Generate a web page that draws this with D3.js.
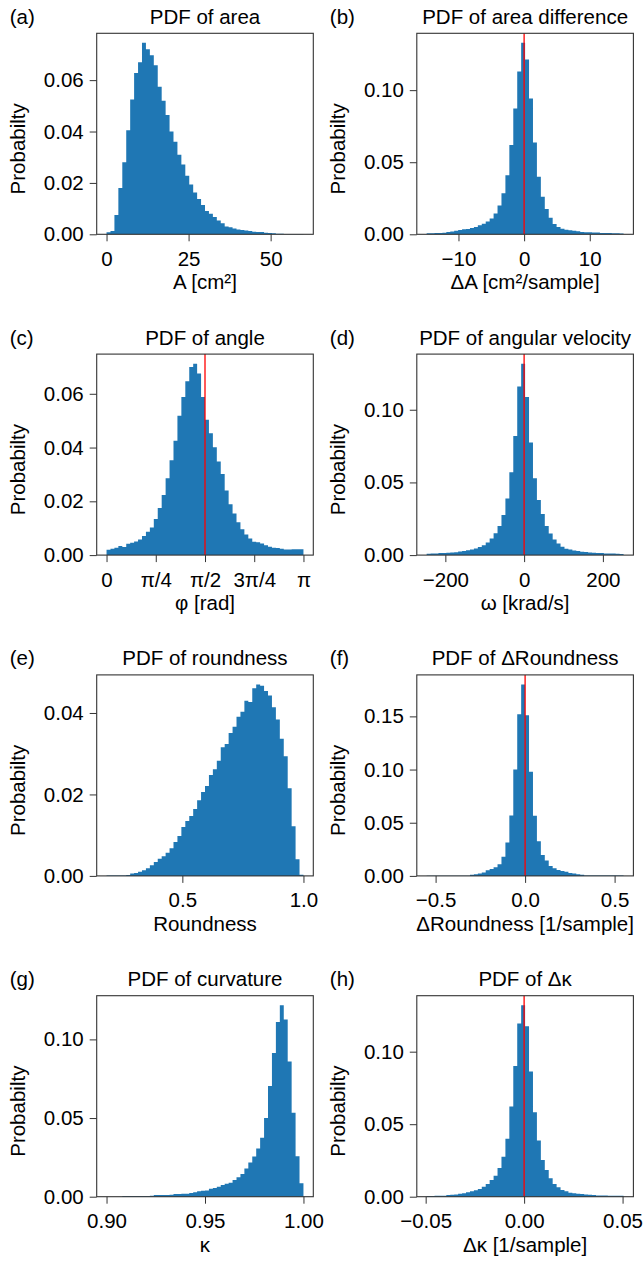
<!DOCTYPE html>
<html>
<head>
<meta charset="utf-8">
<style>
body { margin: 0; background: #fff; }
svg { display: block; font-family: 'Liberation Sans', Arial, Helvetica, sans-serif; }
</style>
</head>
<body>

<svg></svg>

<script src="https://d3js.org/d3.v7.min.js"></script>
<script>

// ---- data: probability per bin (50 bins each), bin range, ticks ----

// (a) area
const areaProb = [
    0.0008, 0.0013, 0.0075, 0.018, 0.028, 0.0405, 0.0525, 0.0628, 0.067, 0.0745,
    0.072, 0.0697, 0.0658, 0.0574, 0.052, 0.0464, 0.040, 0.036, 0.031, 0.0272,
    0.0228, 0.0194, 0.0163, 0.0137, 0.0114, 0.0091, 0.008, 0.0067, 0.0054, 0.0043,
    0.003, 0.0027, 0.0023, 0.0019, 0.0017, 0.0015, 0.0013, 0.001, 0.0009, 0.0009,
    0.0006, 0.0005, 0.0004, 0.0002, 0.0002, 0.0001, 0.0001, 0.0001, 0.0001, 0.0001
];
const areaBins = [0, 60];
const areaXTicks = [0, 25, 50];
const areaXTickLabels = ['0', '25', '50'];
const areaYTicks = [0, 0.02, 0.04, 0.06];

// (b) area difference
const areaDiffProb = [
    0.0007, 0.0007, 0.0009, 0.0009, 0.0011, 0.0016, 0.002, 0.0025, 0.003, 0.0035,
    0.0037, 0.0044, 0.005, 0.0062, 0.0074, 0.0088, 0.011, 0.0145, 0.0199, 0.0284,
    0.041, 0.0619, 0.0873, 0.113, 0.1328, 0.1212, 0.0942, 0.0637, 0.040, 0.0261,
    0.0176, 0.0115, 0.0072, 0.005, 0.0039, 0.0032, 0.0028, 0.0025, 0.0021, 0.0016,
    0.0014, 0.0014, 0.0012, 0.0012, 0.0009, 0.0009, 0.0009, 0.0007, 0.0007, 0.0005
];
const areaDiffBins = [-14.85, 15.15];
const areaDiffXTicks = [-10, 0, 10];
const areaDiffXTickLabels = ['\u221210', '0', '10'];
const areaDiffYTicks = [0, 0.05, 0.10];

// (c) angle
const angleProb = [
    0.002, 0.0024, 0.0027, 0.0034, 0.003, 0.0042, 0.0046, 0.0051, 0.0058, 0.0071,
    0.0087, 0.0103, 0.0134, 0.0175, 0.0224, 0.0286, 0.0353, 0.0425, 0.0518, 0.0588,
    0.0647, 0.07, 0.0712, 0.0675, 0.0588, 0.0503, 0.0453, 0.0401, 0.0348, 0.0302,
    0.024, 0.0189, 0.0155, 0.0122, 0.0096, 0.0077, 0.0062, 0.005, 0.0048, 0.0043,
    0.0037, 0.0031, 0.0027, 0.0026, 0.0024, 0.0021, 0.0021, 0.0022, 0.0022, 0.0022
];
const angleBins = [0, Math.PI];
const angleXTicks = [0, Math.PI / 4, Math.PI / 2, 3 * Math.PI / 4, Math.PI];
const angleXTickLabels = ['0', 'π/4', 'π/2', '3π/4', 'π'];
const angleYTicks = [0, 0.02, 0.04, 0.06];

// (d) angular velocity
const angVelProb = [
    0.0009, 0.0011, 0.0011, 0.0014, 0.0014, 0.0016, 0.0018, 0.002, 0.0025, 0.0028,
    0.0034, 0.0039, 0.0046, 0.0055, 0.0067, 0.0087, 0.0115, 0.015, 0.02, 0.0276,
    0.039, 0.057, 0.082, 0.116, 0.1317, 0.1087, 0.0775, 0.0529, 0.0379, 0.0283,
    0.02, 0.0149, 0.0108, 0.008, 0.0057, 0.0044, 0.0039, 0.0032, 0.0028, 0.0023,
    0.0021, 0.0018, 0.0016, 0.0014, 0.0014, 0.0011, 0.0011, 0.0011, 0.0009, 0.0007
];
const angVelBins = [-247.5, 252.5];
const angVelXTicks = [-200, 0, 200];
const angVelXTickLabels = ['\u2212200', '0', '200'];
const angVelYTicks = [0, 0.05, 0.10];

// (e) roundness
const roundProb = [
    0.0001, 0.0001, 0.0001, 0.0001, 0.0001, 0.0002, 0.0006, 0.0007, 0.001, 0.0014,
    0.0019, 0.0026, 0.0034, 0.0042, 0.0048, 0.0057, 0.0068, 0.0083, 0.0098, 0.012,
    0.0135, 0.0147, 0.0164, 0.0186, 0.0206, 0.0221, 0.0248, 0.0262, 0.0283, 0.0316,
    0.0324, 0.0351, 0.0366, 0.0391, 0.0403, 0.043, 0.0427, 0.0461, 0.047, 0.0467,
    0.0454, 0.0443, 0.0414, 0.0384, 0.0337, 0.0294, 0.0215, 0.0122, 0.0041, 0.0003
];
const roundBins = [0.187, 1.0];
const roundXTicks = [0.5, 1.0];
const roundXTickLabels = ['0.5', '1.0'];
const roundYTicks = [0, 0.02, 0.04];

// (f) delta roundness
const dRoundProb = [
    0.0002, 0.0002, 0.0002, 0.0002, 0.0002, 0.0002, 0.0002, 0.0002, 0.0002, 0.0002,
    0.0002, 0.001, 0.0016, 0.0022, 0.0031, 0.0053, 0.0066, 0.0081, 0.011, 0.0181,
    0.0313, 0.0569, 0.1, 0.152, 0.18, 0.151, 0.098, 0.0566, 0.0325, 0.0197,
    0.0144, 0.0094, 0.0072, 0.0056, 0.0047, 0.0038, 0.0028, 0.0022, 0.0016, 0.001,
    0.0003, 0.0003, 0.0003, 0.0003, 0.0003, 0.0003, 0.0003, 0.0003, 0.0003, 0.0003
];
const dRoundBins = [-0.55, 0.55];
const dRoundXTicks = [-0.5, 0, 0.5];
const dRoundXTickLabels = ['\u22120.5', '0.0', '0.5'];
const dRoundYTicks = [0, 0.05, 0.10, 0.15];

// (g) curvature
const curvProb = [
    0, 0, 0, 0, 0.0004, 0.0004, 0.0004, 0.0004, 0.0004, 0.0004,
    0.0004, 0.0006, 0.0011, 0.0011, 0.0011, 0.0011, 0.0013, 0.0017, 0.0017, 0.0019,
    0.0019, 0.0023, 0.0028, 0.0034, 0.0038, 0.004, 0.0051, 0.0055, 0.0064, 0.0074,
    0.0083, 0.0089, 0.0106, 0.0123, 0.0144, 0.018, 0.0217, 0.0255, 0.0306, 0.0374,
    0.0501, 0.0703, 0.0913, 0.111, 0.1217, 0.1127, 0.086, 0.0533, 0.0257, 0.0085
];
const curvBins = [0.9, 1.0];
const curvXTicks = [0.90, 0.95, 1.00];
const curvXTickLabels = ['0.90', '0.95', '1.00'];
const curvYTicks = [0, 0.05, 0.10];

// (h) delta curvature
const dCurvProb = [
    0.0005, 0.0005, 0.0007, 0.0007, 0.0007, 0.0012, 0.0014, 0.0016, 0.0021, 0.0023,
    0.003, 0.0037, 0.0044, 0.0053, 0.0069, 0.0088, 0.0115, 0.0145, 0.0198, 0.0276,
    0.0399, 0.0622, 0.0901, 0.1194, 0.132, 0.1175, 0.0864, 0.0583, 0.0387, 0.0253,
    0.0184, 0.0127, 0.0088, 0.0065, 0.0046, 0.0037, 0.0028, 0.0023, 0.0021, 0.0018,
    0.0016, 0.0014, 0.0012, 0.0009, 0.0009, 0.0009, 0.0007, 0.0007, 0.0007, 0.0007
];
const dCurvBins = [-0.0495, 0.0505];
const dCurvXTicks = [-0.05, 0, 0.05];
const dCurvXTickLabels = ['\u22120.05', '0.00', '0.05'];
const dCurvYTicks = [0, 0.05, 0.10];

// ---- panels ----

const panels = [
    {tag: '(a)', title: 'PDF of area', xLabel: 'A [cm²]', prob: areaProb, bins: areaBins,
     xTicks: areaXTicks, xTickLabels: areaXTickLabels, yTicks: areaYTicks, marker: null, row: 0, col: 0},
    {tag: '(b)', title: 'PDF of area difference', xLabel: 'ΔA [cm²/sample]', prob: areaDiffProb, bins: areaDiffBins,
     xTicks: areaDiffXTicks, xTickLabels: areaDiffXTickLabels, yTicks: areaDiffYTicks, marker: 0, row: 0, col: 1},
    {tag: '(c)', title: 'PDF of angle', xLabel: 'φ [rad]', prob: angleProb, bins: angleBins,
     xTicks: angleXTicks, xTickLabels: angleXTickLabels, yTicks: angleYTicks, marker: Math.PI / 2, row: 1, col: 0},
    {tag: '(d)', title: 'PDF of angular velocity', xLabel: 'ω [krad/s]', prob: angVelProb, bins: angVelBins,
     xTicks: angVelXTicks, xTickLabels: angVelXTickLabels, yTicks: angVelYTicks, marker: 0, row: 1, col: 1},
    {tag: '(e)', title: 'PDF of roundness', xLabel: 'Roundness', prob: roundProb, bins: roundBins,
     xTicks: roundXTicks, xTickLabels: roundXTickLabels, yTicks: roundYTicks, marker: null, row: 2, col: 0},
    {tag: '(f)', title: 'PDF of ΔRoundness', xLabel: 'ΔRoundness [1/sample]', prob: dRoundProb, bins: dRoundBins,
     xTicks: dRoundXTicks, xTickLabels: dRoundXTickLabels, yTicks: dRoundYTicks, marker: 0, row: 2, col: 1},
    {tag: '(g)', title: 'PDF of curvature', xLabel: 'κ', prob: curvProb, bins: curvBins,
     xTicks: curvXTicks, xTickLabels: curvXTickLabels, yTicks: curvYTicks, marker: null, row: 3, col: 0},
    {tag: '(h)', title: 'PDF of Δκ', xLabel: 'Δκ [1/sample]', prob: dCurvProb, bins: dCurvBins,
     xTicks: dCurvXTicks, xTickLabels: dCurvXTickLabels, yTicks: dCurvYTicks, marker: 0, row: 3, col: 1},
];

// ---- layout ----

const fullWidth = 644;
const fullHeight = 1261;
const colLeft = [96.7, 416.8];
const rowTop = 33.3;
const rowStep = 320.8;
const plotW = 216.6;
const plotH = 201;
const fontSize = 20.5;
const barColor = '#1f77b4';
const axisColor = '#333';

const svg = d3.select('svg')
    .attr('width', fullWidth)
    .attr('height', fullHeight);

svg.append('rect')
    .attr('width', fullWidth)
    .attr('height', fullHeight)
    .attr('fill', '#fff');

panels.forEach(p => {
    const g = svg.append('g')
        .attr('transform', `translate(${colLeft[p.col]}, ${rowTop + p.row * rowStep})`);

    const n = p.prob.length;
    const span = p.bins[1] - p.bins[0];
    const binW = span / n;

    const x = d3.scaleLinear()
        .domain([p.bins[0] - 0.05 * span, p.bins[1] + 0.05 * span])
        .range([0, plotW]);

    const y = d3.scaleLinear()
        .domain([0, d3.max(p.prob) * 1.05])
        .range([plotH, 0]);

    // histogram bars drawn as one stepped shape (no seams between bins)
    const steps = p.prob.map((v, i) => ({edge: p.bins[0] + i * binW, v}));
    steps.push({edge: p.bins[1], v: p.prob[n - 1]});

    const histArea = d3.area()
        .curve(d3.curveStepAfter)
        .x(d => x(d.edge))
        .y0(y(0))
        .y1(d => y(d.v));

    g.append('path')
        .attr('class', 'bars')
        .datum(steps)
        .attr('d', histArea)
        .attr('fill', barColor);

    // reference line
    if (p.marker !== null) {
        g.append('line')
            .attr('x1', x(p.marker))
            .attr('x2', x(p.marker))
            .attr('y1', 0)
            .attr('y2', plotH)
            .attr('stroke', '#ff0000')
            .attr('stroke-width', 1.3);
    }

    // axes
    const xAxis = d3.axisBottom(x)
        .tickValues(p.xTicks)
        .tickFormat((d, i) => p.xTickLabels[i])
        .tickSize(7)
        .tickPadding(10)
        .tickSizeOuter(0);

    const yAxis = d3.axisLeft(y)
        .tickValues(p.yTicks)
        .tickFormat(d3.format('.2f'))
        .tickSize(7)
        .tickPadding(6)
        .tickSizeOuter(0);

    const gx = g.append('g')
        .attr('transform', `translate(0, ${plotH})`)
        .call(xAxis);

    const gy = g.append('g')
        .call(yAxis);

    [gx, gy].forEach(a => {
        a.select('.domain').remove();
        a.attr('font-family', null).attr('font-size', null);
        a.selectAll('.tick line').attr('stroke', axisColor).attr('stroke-width', 1);
        a.selectAll('.tick text')
            .attr('fill', '#000')
            .style('font-size', fontSize + 'px');
    });

    // frame
    g.append('rect')
        .attr('width', plotW)
        .attr('height', plotH)
        .attr('fill', 'none')
        .attr('stroke', axisColor)
        .attr('stroke-width', 1.1);

    // texts
    g.append('text')
        .attr('x', -87)
        .attr('y', -9.5)
        .style('font-size', fontSize + 'px')
        .text(p.tag);

    g.append('text')
        .attr('x', plotW / 2)
        .attr('y', -9.5)
        .attr('text-anchor', 'middle')
        .style('font-size', fontSize + 'px')
        .text(p.title);

    g.append('text')
        .attr('x', plotW / 2)
        .attr('y', plotH + 55)
        .attr('text-anchor', 'middle')
        .style('font-size', fontSize + 'px')
        .text(p.xLabel);

    g.append('text')
        .attr('transform', `translate(-72, ${plotH / 2 + 15}) rotate(-90)`)
        .attr('text-anchor', 'middle')
        .style('font-size', fontSize + 'px')
        .text('Probabilty');
});

</script>
</body>
</html>
